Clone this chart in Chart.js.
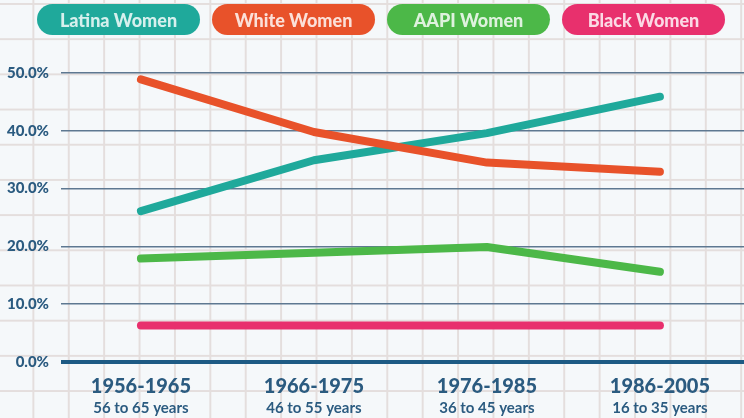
<!DOCTYPE html>
<html>
<head>
<meta charset="utf-8">
<script src="https://cdn.jsdelivr.net/npm/chart.js@4"></script>
<style>
  html, body { margin: 0; padding: 0; }
  body {
    width: 744px; height: 418px; overflow: hidden; position: relative;
    background-color: #f5f8fa;
    background-image:
      linear-gradient(to right, #e4dedd 2px, transparent 2px),
      linear-gradient(to bottom, #e4dedd 2px, transparent 2px);
    background-size: 35.4px 35.2px;
    background-position: -3px 3px;
    font-family: 'Lato', sans-serif;
  }
  #legenda { position: absolute; left: 37px; top: 4px; display: flex; gap: 12px; }
  .pill {
    width: 163px; height: 31px; border-radius: 16px;
    color: rgba(255,255,255,0.82); font: 900 18px 'Lato', sans-serif;
    display: flex; align-items: center; justify-content: center;
  }
  #wrap { position: absolute; left: 0; top: 0; width: 744px; height: 418px; }
</style>
</head>
<body>
<div id="wrap"><canvas id="grafico"></canvas></div>
<div id="legenda"></div>
<script>
// dados
const periodos = ['1956-1965', '1966-1975', '1976-1985', '1986-2005'];
const idades = ['56 to 65 years', '46 to 55 years', '36 to 45 years', '16 to 35 years'];
const series = ['Latina Women', 'White Women', 'AAPI Women', 'Black Women'];
const latina = [26.1, 34.9, 39.6, 45.9];
const white = [48.9, 39.8, 34.5, 32.9];
const aapi = [17.9, 18.9, 19.9, 15.6];
const black = [6.3, 6.3, 6.3, 6.3];
const yTicks = [0, 10, 20, 30, 40, 50];

const cores = ['#1fa99b', '#e8522a', '#4cb848', '#e8306d'];
const valores = [latina, white, aapi, black];

// legenda em pílulas (html)
document.getElementById('legenda').innerHTML = series
  .map((s, i) => `<div class="pill" style="background:${cores[i]}">${s}</div>`).join('');

const azul = '#2b5b80';

// rótulos do eixo x em duas linhas com tamanhos diferentes
const rotulosX = {
  id: 'rotulosX',
  afterDraw(chart) {
    const x = chart.scales.x, ctx = chart.ctx;
    ctx.save();
    ctx.fillStyle = azul;
    ctx.textAlign = 'center';
    ctx.textBaseline = 'middle';
    periodos.forEach((p, i) => {
      const px = x.getPixelForValue(i);
      ctx.font = "900 20px 'Lato', sans-serif";
      ctx.fillText(p, px, 387);
      ctx.font = "700 15px 'Lato', sans-serif";
      ctx.fillText(idades[i], px, 408);
    });
    ctx.restore();
  }
};

// ordem: branca por cima da latina
const ordem = [1, 0, 3, 2];
new Chart(document.getElementById('grafico'), {
  type: 'line',
  data: {
    datasets: series.map((s, i) => ({
      label: s,
      data: valores[i].map((v, k) => ({ x: k, y: v })),
      borderColor: cores[i], backgroundColor: cores[i],
      borderWidth: 8, borderCapStyle: 'round', borderJoinStyle: 'round',
      pointRadius: 0, tension: 0, clip: false, order: ordem[i]
    }))
  },
  plugins: [rotulosX],
  options: {
    responsive: true, maintainAspectRatio: false, animation: false,
    layout: { padding: { top: 73, bottom: 56, left: 0, right: 0 } },
    plugins: { legend: { display: false }, tooltip: { enabled: false } },
    scales: {
      x: { type: 'linear', display: false, min: -0.462, max: 3.486 },
      y: {
        min: 0, max: 50,
        afterFit: s => { s.width = 61; },
        afterBuildTicks: s => { s.ticks = yTicks.map(v => ({ value: v })); },
        border: { display: false },
        grid: {
          drawTicks: false,
          color: c => c.tick && c.tick.value === 0 ? '#1d5a84' : '#5e7891',
          lineWidth: c => c.tick && c.tick.value === 0 ? 4 : 1.5
        },
        ticks: {
          padding: 12, color: azul,
          font: { family: 'Lato', weight: '900', size: 15 },
          callback: v => v.toFixed(1) + '%'
        }
      }
    }
  }
});
</script>
</body>
</html>
